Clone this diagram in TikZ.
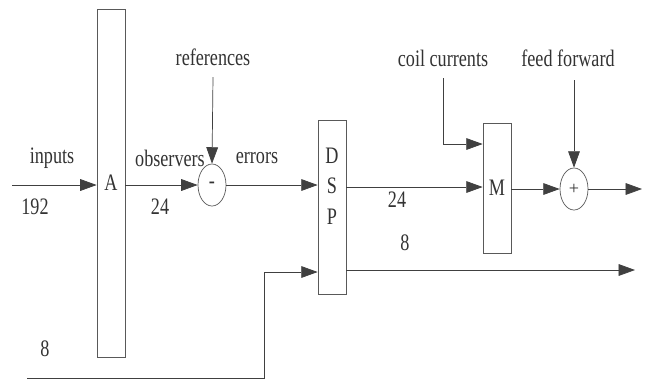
\documentclass[tikz,border=0pt]{standalone}
\usepackage{fontspec}
\setmainfont{Liberation Serif}
\usetikzlibrary{arrows.meta,shapes.geometric}
\newcommand{\tall}[1]{\scalebox{1}[1.3]{#1}}

\begin{document}
\begin{tikzpicture}[x=0.03cm,y=-0.03cm,
      every node/.style={font=\fontsize{15.5}{18}\selectfont,text=black!80},
      blk/.style={draw=black!65,line width=0.6pt,minimum width=0.84cm,inner sep=0pt},
      junc/.style={draw=black!65,line width=0.6pt,ellipse,minimum width=0.84cm,minimum height=1.26cm,inner sep=0pt},
      arr/.style={draw=black!75,line width=0.6pt,-{Triangle[length=14pt,width=10pt]}},
      wire/.style={draw=black!75,line width=0.6pt}]
    \useasboundingbox (0,0) rectangle (646,379);
    % blocks
    \node[blk,minimum height=10.44cm] (A) at (111,183) {\tall{A}};
    \node[blk,minimum height=5.22cm] (dsp) at (332,207) {};
    \node[align=center,font=\fontsize{15.5}{26}\selectfont] (dsptxt) at (332,186) {\tall{D}\\\tall{S}\\\tall{P}};
    \node[blk,minimum height=3.9cm] (M) at (497,188) {\tall{M}};
    \node[junc] (minus) at (212,185) {\tall{-}};
    \node[junc] (plus) at (574,189) {+};
    % labels
    \node (inputs) at (52,158) {\tall{inputs}};
    \node (nin) at (35,207) {\tall{192}};
    \node (obs) at (170,158) {\tall{observers}};
    \node (nobs) at (160,207) {\tall{24}};
    \node (err) at (257,158) {\tall{errors}};
    \node (ref) at (213,57) {\tall{references}};
    \node (coil) at (443,58) {\tall{coil currents}};
    \node (ff) at (568,58) {\tall{feed forward}};
    \node (nm) at (397,200) {\tall{24}};
    \node (nlow) at (405,243) {\tall{8}};
    \node (nbot) at (45,349) {\tall{8}};
    % free ends
    \coordinate (in) at (12,185);
    \coordinate (reftop) at (213,77);
    \coordinate (coiltop) at (443,78);
    \coordinate (fftop) at (574,80);
    \coordinate (out) at (642,189);
    \coordinate (outlow) at (635,270);
    \coordinate (botl) at (27,378);
    \coordinate (botr) at (264,378);
    \coordinate (botup) at (264,272);
    % connectors
    \draw[arr] (in) -- (in -| A.west);
    \draw[arr] (A.east |- minus) -- (minus.west);
    \draw[arr] (reftop) -- (minus.north);
    \draw[arr] (minus.east) -- (minus -| dsp.west);
    \draw[arr] (dsp.east |- 0,187) -- (M.west |- 0,187);
    \draw[arr] (coiltop) |- (M.west |- 0,144);
    \draw[arr] (M.east |- plus) -- (plus.west);
    \draw[arr] (fftop) -- (plus.north);
    \draw[arr] (plus.east) -- (out);
    \draw[arr] (dsp.east |- outlow) -- (outlow);
    \draw[wire] (botl) -- (botr) -- (botup);
    \draw[arr] (botup) -- (botup -| dsp.west);
\end{tikzpicture}
\end{document}
